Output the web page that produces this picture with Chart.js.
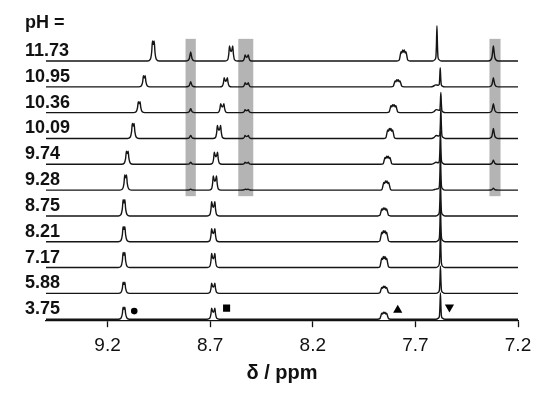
<!DOCTYPE html>
<html>
<head>
<meta charset="utf-8">
<script src="https://cdn.jsdelivr.net/npm/chart.js@4.4.1/dist/chart.umd.min.js"></script>
<style>
  html, body { margin: 0; padding: 0; background: #fff; }
  #wrap { width: 550px; height: 397px; }
</style>
</head>
<body>
<div id="wrap"><canvas id="nmr"></canvas></div>
<script>
// pH of each trace, top to bottom
const phValues = ["11.73", "10.95", "10.36", "10.09", "9.74", "9.28", "8.75", "8.21", "7.17", "5.88", "3.75"];

// signal positions (ppm) and heights, one entry per trace (top to bottom)
const sigA_ppm = [8.977, 9.021, 9.046, 9.075, 9.104, 9.112, 9.12, 9.12, 9.12, 9.12, 9.12];
const sigA_h   = [20, 11, 11, 15, 13, 15, 16, 15, 15, 11, 12];
const sigB_ppm = [8.795, 8.795, 8.795, 8.795, 8.795, 8.795, 8.795, 8.795, 8.795, 8.795, 8.795];
const sigB_h   = [9, 5, 4, 3, 2, 1, 0, 0, 0, 0, 0];
const sigC_ppm = [8.598, 8.624, 8.641, 8.657, 8.672, 8.677, 8.685, 8.685, 8.685, 8.685, 8.685];
const sigC_h   = [15, 9, 9, 13, 12, 14, 14, 13, 14, 10, 11];
const sigD_ppm = [8.522, 8.522, 8.522, 8.522, 8.522, 8.522, 8.522, 8.522, 8.522, 8.522, 8.522];
const sigD_h   = [6, 4, 3, 3, 2, 1, 0, 0, 0, 0, 0];
const sigE_ppm = [7.758, 7.787, 7.807, 7.823, 7.836, 7.842, 7.852, 7.852, 7.852, 7.852, 7.852];
const sigE_h   = [11, 7, 8, 10, 8, 9, 8, 11, 11, 7, 7];
const sigF_ppm = [7.595, 7.579, 7.576, 7.576, 7.578, 7.578, 7.578, 7.578, 7.578, 7.578, 7.578];
const sigF_h   = [35, 19, 20, 30, 33, 36, 36, 36, 36, 27, 26];
const sigF_shoulder = [0, 2, 3, 3, 2, 1, 0, 0, 0, 0, 0];
const sigH_ppm = [7.32, 7.32, 7.32, 7.32, 7.32, 7.32, 7.32, 7.32, 7.32, 7.32, 7.32];
const sigH_h   = [15, 9, 9, 10, 4, 2, 0, 0, 0, 0, 0];

// shaded regions (ppm)
const bandFrom = [8.82, 8.563, 7.339];
const bandTo   = [8.77, 8.49, 7.285];

// assignment markers on the bottom trace
const markerPpm    = [9.07, 8.62, 7.786, 7.534];
const markerHeight = [8, 11, 9, 12];

const xTicks = [7.2, 7.7, 8.2, 8.7, 9.2];

const STEP = 25.6; // vertical offset between traces

// relative line shapes [ppm offset, fraction of height]
const SHAPES = {
  s: [[-0.026,0],[-0.013,0.07],[-0.007,0.25],[-0.0035,0.62],[0,1],[0.0035,0.62],[0.007,0.25],[0.013,0.07],[0.026,0]],
  d: [[-0.03,0],[-0.017,0.08],[-0.011,0.5],[-0.008,1],[-0.004,0.75],[0,0.62],[0.004,0.75],[0.008,1],[0.011,0.5],[0.017,0.08],[0.03,0]],
  n: [[-0.028,0],[-0.015,0.08],[-0.008,0.45],[-0.0042,1],[0,0.82],[0.0042,1],[0.008,0.45],[0.015,0.08],[0.028,0]],
  m: [[-0.032,0],[-0.021,0.08],[-0.016,0.5],[-0.012,0.85],[-0.008,0.72],[-0.004,1],[0,0.82],[0.004,1],[0.008,0.72],[0.012,0.85],[0.016,0.5],[0.021,0.08],[0.032,0]]
};

function baseOf(i) { return (phValues.length - 1 - i) * STEP; }

function addShape(pts, kind, center, h, base) {
  if (h <= 0) return;
  SHAPES[kind].forEach(([dx, r]) => pts.push({ x: center + dx, y: base + r * h }));
}

// tall narrow peak, with optional shoulder on its low-field side
function addTall(pts, center, h, sh, base) {
  const right = [[-0.022,0],[-0.01,0.04],[-0.005,0.12],[-0.0026,0.45],[0,1],[0.0026,0.45],[0.005,0.12]];
  right.forEach(([dx, r]) => pts.push({ x: center + dx, y: base + r * h }));
  pts.push({ x: center + 0.01, y: base + Math.max(0.04 * h, sh * 0.8) });
  pts.push({ x: center + 0.022, y: base + Math.max(0, sh) });
  pts.push({ x: center + 0.034, y: base + sh * 0.3 });
  pts.push({ x: center + 0.046, y: base });
}

function buildTrace(i) {
  const b = baseOf(i);
  const pts = [{ x: 7.2, y: b }, { x: 9.5, y: b }];
  addShape(pts, "n", sigA_ppm[i], sigA_h[i], b);
  addShape(pts, "s", sigB_ppm[i], sigB_h[i], b);
  addShape(pts, "d", sigC_ppm[i], sigC_h[i], b);
  addShape(pts, "d", sigD_ppm[i], sigD_h[i], b);
  addShape(pts, "m", sigE_ppm[i], sigE_h[i], b);
  addTall(pts, sigF_ppm[i], sigF_h[i], sigF_shoulder[i], b);
  addShape(pts, "s", sigH_ppm[i], sigH_h[i], b);
  pts.sort((p, q) => p.x - q.x);
  return pts;
}

const datasets = phValues.map((ph, i) => ({
  label: "pH " + ph,
  data: buildTrace(i),
  borderColor: "#151515",
  borderWidth: 1.4,
  pointRadius: 0,
  cubicInterpolationMode: "monotone",
  fill: false
}));

datasets.push({
  label: "markers",
  data: markerPpm.map((p, k) => ({ x: p, y: baseOf(phValues.length - 1) + markerHeight[k] })),
  showLine: false,
  pointStyle: ["circle", "rect", "triangle", "triangle"],
  pointRadius: [3.3, 5, 5.3, 5.3],
  pointRotation: [0, 0, 0, 180],
  backgroundColor: "#000",
  borderColor: "#000",
  borderWidth: 0
});

// gray shaded bands behind the traces
const bandPlugin = {
  id: "bands",
  beforeDatasetsDraw(chart) {
    const { ctx, scales: { x, y } } = chart;
    const top = y.getPixelForValue(baseOf(0) + 22);
    const bottom = y.getPixelForValue(baseOf(5) - 6);
    ctx.save();
    ctx.fillStyle = "#b4b4b4";
    bandFrom.forEach((f, k) => {
      const x1 = x.getPixelForValue(f), x2 = x.getPixelForValue(bandTo[k]);
      ctx.fillRect(x1, top, x2 - x1, bottom - top);
    });
    ctx.restore();
  }
};

// pH labels at the left of each trace
const labelPlugin = {
  id: "phLabels",
  afterDraw(chart) {
    const { ctx, scales: { y } } = chart;
    ctx.save();
    ctx.fillStyle = "#111";
    ctx.font = "bold 18px 'Liberation Sans', Arial, sans-serif";
    ctx.textBaseline = "alphabetic";
    ctx.fillText("pH =", 25, 28);
    phValues.forEach((ph, i) => {
      ctx.fillText(ph, 25, y.getPixelForValue(baseOf(i)) - 5);
    });
    ctx.restore();
  }
};

new Chart(document.getElementById("nmr"), {
  type: "line",
  data: { datasets },
  plugins: [bandPlugin, labelPlugin],
  options: {
    responsive: true,
    maintainAspectRatio: false,
    animation: false,
    layout: { padding: { left: 46, right: 32, top: 20, bottom: 12 } },
    plugins: { legend: { display: false }, tooltip: { enabled: false } },
    scales: {
      x: {
        type: "linear",
        reverse: true,
        min: 7.2,
        max: 9.5,
        afterBuildTicks(scale) { scale.ticks = xTicks.map(v => ({ value: v })); },
        ticks: {
          color: "#111",
          padding: 7,
          font: { family: "'Liberation Sans', Arial, sans-serif", size: 19 },
          callback: v => v.toFixed(1)
        },
        grid: { drawOnChartArea: false, drawTicks: true, tickLength: 7, tickColor: "#111", tickWidth: 1.3 },
        border: { display: true, color: "#111", width: 1.3 },
        title: {
          display: true,
          text: "δ / ppm",
          color: "#111",
          padding: { top: -3, bottom: 0 },
          font: { family: "'Liberation Sans', Arial, sans-serif", size: 20, weight: "bold" }
        }
      },
      y: {
        display: false,
        min: -1,
        max: 296.7
      }
    }
  }
});
</script>
</body>
</html>
